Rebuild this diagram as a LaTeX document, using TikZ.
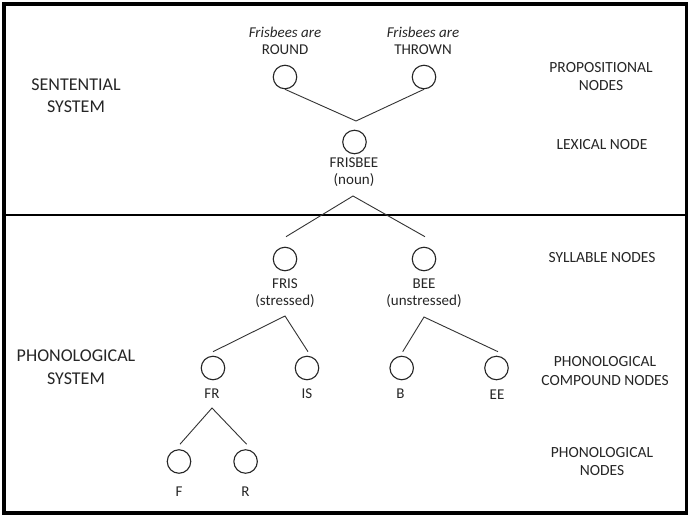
\documentclass[tikz,border=0pt]{standalone}
\usepackage{fontspec}
\setmainfont{Carlito}
\usetikzlibrary{calc}
\begin{document}
\begin{tikzpicture}[x=1pt,y=-1pt,
  nd/.style={draw=black!85, circle, minimum size=23.5pt, inner sep=0pt, line width=1.1pt},
  lbl/.style={font=\fontsize{15}{17}\selectfont, align=center, inner sep=0pt, text=black!85},
  side/.style={font=\fontsize{15.5}{18.5}\selectfont, align=center, inner sep=0pt, text=black!85},
  sys/.style={font=\fontsize{18}{22.5}\selectfont, align=center, inner sep=0pt, text=black!85},
  edge/.style={line width=0.9pt, draw=black!80}
]
\useasboundingbox (0,0) rectangle (691,517);
\fill[white] (0,0) rectangle (691,517);
% frame and divider
\draw[line width=3.5pt] (4,4) rectangle (686.5,513);
\draw[line width=2.5pt] (4,215) -- (686.5,215);

% propositional nodes
\node[lbl] (tRound) at (285,41) {\textit{Frisbees are}\\ROUND};
\node[nd] (cRound) at (285,77) {};
\node[lbl] (tThrown) at (423,41) {\textit{Frisbees are}\\THROWN};
\node[nd] (cThrown) at (424,77) {};
\coordinate (apTop) at (356,121);
\draw[edge] (cRound.south) -- (apTop) -- (cThrown.south);

% lexical node
\node[nd] (cFrisbee) at (354.5,142) {};
\node[lbl] (tFrisbee) at (354,172) {FRISBEE\\(noun)};
\coordinate (apMid) at (353,196);

% syllable nodes
\node[nd] (cFris) at (285,259) {};
\node[lbl] (tFris) at (285,293) {FRIS\\(stressed)};
\node[nd] (cBee) at (424,259) {};
\node[lbl] (tBee) at (424,293) {BEE\\(unstressed)};
\coordinate (eFris) at ($(cFris.north)+(1,-10)$);
\coordinate (eBee) at ($(cBee.north)+(1,-10)$);
\draw[edge] (eFris) -- (apMid) -- (eBee);

% compound nodes
\node[nd] (cFR) at (213,368) {};
\node[nd] (cIS) at (307,368) {};
\node[lbl] (tFR) at (212,394) {FR};
\node[lbl] (tIS) at (307,394) {IS};
\node[nd] (cB) at (401.7,368) {};
\node[nd] (cEE) at (496.5,368) {};
\node[lbl] (tB) at (400.5,394) {B};
\node[lbl] (tEE) at (497,395) {EE};
\coordinate (apFris) at (285,316);
\coordinate (eFR) at ($(cFR.north)+(0,-4)$);
\coordinate (eIS) at ($(cIS.north)+(1,-4)$);
\draw[edge] (eFR) -- (apFris) -- (eIS);
\coordinate (apBee) at (424,317);
\coordinate (eB) at ($(cB.north)+(1,-4)$);
\coordinate (eEE) at ($(cEE.north)+(1.5,-4)$);
\draw[edge] (eB) -- (apBee) -- (eEE);

% phonological nodes
\node[nd] (cF) at (179,461.5) {};
\node[nd] (cR) at (245.6,461.5) {};
\node[lbl] (tF) at (179,492) {F};
\node[lbl] (tR) at (245.5,492) {R};
\coordinate (apFR) at (212,408);
\coordinate (eF) at ($(cF.north)+(1,-5)$);
\coordinate (eR) at ($(cR.north)+(1,-5)$);
\draw[edge] (eF) -- (apFR) -- (eR);

% right labels
\node[side] (lProp) at (601,76.5) {PROPOSITIONAL\\NODES};
\node[side] (lLex) at (602,144.5) {LEXICAL NODE};
\node[side] (lSyl) at (602,258) {SYLLABLE NODES};
\node[side] (lComp) at (605,371) {PHONOLOGICAL\\COMPOUND NODES};
\node[side] (lPhon) at (602,461.5) {PHONOLOGICAL\\NODES};

% left labels
\node[sys] (sSent) at (76,95.5) {SENTENTIAL\\SYSTEM};
\node[sys] (sPhon) at (76,367) {PHONOLOGICAL\\SYSTEM};
\end{tikzpicture}
\end{document}
